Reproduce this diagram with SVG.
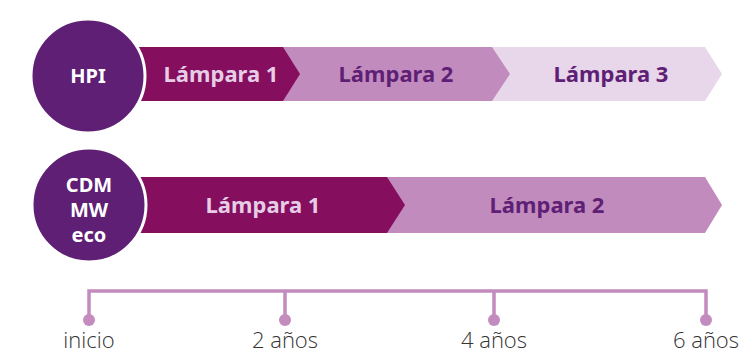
<svg xmlns="http://www.w3.org/2000/svg" width="747" height="354" viewBox="0 0 747 354">
<style>
.c1{fill:#850E5F}
.c2{fill:#C28BBD}
.c3{fill:#E8D6EA}
.circ{fill:#5E1F75;stroke:#fff;stroke-width:3}
.ct{font-family:"Noto Sans","Open Sans",sans-serif;font-weight:bold;font-size:20px;fill:#fff;text-anchor:middle}
.bl{font-family:"Noto Sans","Open Sans",sans-serif;font-weight:bold;font-size:22px;text-anchor:middle}
.lt{fill:#E6CDE5}
.dk{fill:#5E1F75}
.tl{stroke:#C48BBE;stroke-width:3.5;fill:none}
.dot{fill:#C48BBE}
.lab{font-family:"Open Sans","Noto Sans",sans-serif;font-weight:300;font-size:22px;fill:#333;text-anchor:middle}
</style>
<g id="hpi-row">
  <g id="hpi-l3"><polygon class="c3" points="480,47 705,47 722,74 705,101 480,101"/><text class="bl dk" x="611" y="82">Lámpara 3</text></g>
  <g id="hpi-l2"><polygon class="c2" points="270,47 492,47 510,74 492,101 270,101"/><text class="bl dk" x="396" y="82">Lámpara 2</text></g>
  <g id="hpi-l1"><polygon class="c1" points="120,47 283,47 300,74 283,101 120,101"/><text class="bl lt" x="221" y="82">Lámpara 1</text></g>
  <g id="hpi"><circle class="circ" cx="88" cy="76" r="57"/><text class="ct" x="88" y="83">HPI</text></g>
</g>
<g id="cdm-row">
  <g id="cdm-l2"><polygon class="c2" points="370,177 705,177 722,205 705,233 370,233"/><text class="bl dk" x="547" y="213">Lámpara 2</text></g>
  <g id="cdm-l1"><polygon class="c1" points="120,177 387,177 405,205 387,233 120,233"/><text class="bl lt" x="263" y="213">Lámpara 1</text></g>
  <g id="cdm"><circle class="circ" cx="89" cy="205" r="57"/><text class="ct" x="89" y="192">CDM</text><text class="ct" x="89" y="217">MW</text><text class="ct" x="89" y="242">eco</text></g>
</g>
<g id="connectors">
  <path class="tl" d="M89,320 V291 H706 V320 M285,291 V320 M494,291 V320"/>
  <circle class="dot" cx="89" cy="320" r="6"/>
  <circle class="dot" cx="285" cy="320" r="6"/>
  <circle class="dot" cx="494" cy="320" r="6"/>
  <circle class="dot" cx="706" cy="320" r="6"/>
</g>
<g id="labels">
  <text class="lab" x="89" y="348">inicio</text>
  <text class="lab" x="285" y="348">2 años</text>
  <text class="lab" x="494" y="348">4 años</text>
  <text class="lab" x="706" y="348">6 años</text>
</g>
</svg>
